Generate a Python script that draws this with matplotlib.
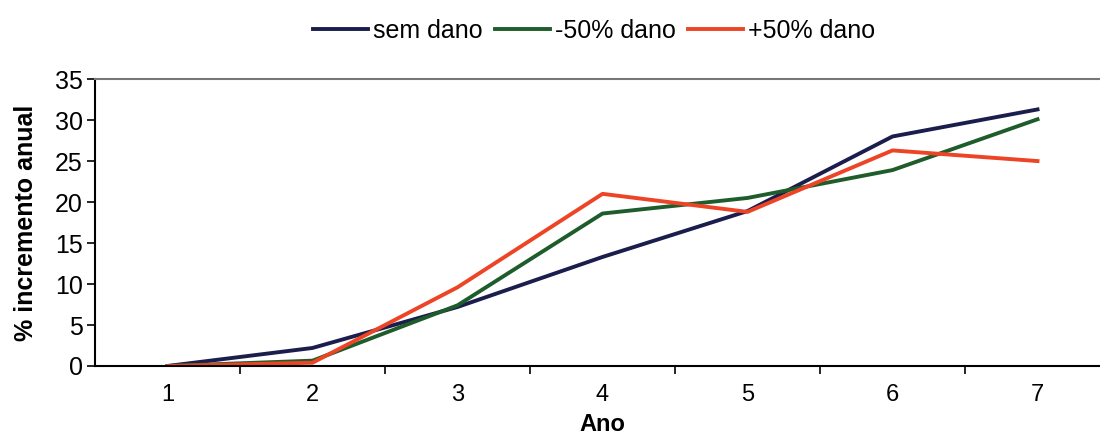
import numpy as np
import matplotlib.pyplot as plt
from matplotlib.ticker import FixedLocator

anos = [1, 2, 3, 4, 5, 6, 7]
sem_dano = [0, 2.2, 7.2, 13.3, 18.9, 28.0, 31.3]
menos_50 = [0, 0.65, 7.4, 18.6, 20.5, 23.9, 30.1]
mais_50 = [0, 0.4, 9.6, 21.0, 18.8, 26.3, 25.0]

plt.rcParams['font.family'] = ['Liberation Sans', 'DejaVu Sans']

fig = plt.figure(figsize=(11, 4.37), dpi=100)
ax = fig.add_axes([0.0864, 0.1625, 0.9227, 0.6565])

ax.plot(anos, sem_dano, color="#1b1d4d", lw=2.8, label="sem dano")
ax.plot(anos, menos_50, color="#1f5c2c", lw=2.8, label="-50% dano")
ax.plot(anos, mais_50, color="#ee4426", lw=2.8, label="+50% dano")

ax.set_xlim(0.5, 7.5)
ax.set_ylim(0, 35)
ax.set_yticks(range(0, 36, 5))
ax.set_xticks(anos)
ax.xaxis.set_minor_locator(FixedLocator(np.arange(1.5, 7.5, 1)))
ax.tick_params(axis="x", which="major", length=0, pad=13, labelsize=17)
ax.tick_params(axis="x", which="minor", length=6, width=1.2, direction="out")
ax.tick_params(axis="y", length=6, width=1.2, labelsize=18, pad=3)

for s in ["left", "bottom"]:
    ax.spines[s].set_linewidth(1.5)
    ax.spines[s].set_color("black")
ax.spines["top"].set_color("#777777")
ax.spines["top"].set_linewidth(1.5)
ax.spines["right"].set_visible(False)

ax.set_xlabel("Ano", fontsize=17, fontweight="bold", labelpad=5)
ax.set_ylabel("% incremento anual", fontsize=18, fontweight="bold", labelpad=12)

fig.legend(loc="center", bbox_to_anchor=(0.54, 0.93), ncol=3, frameon=False,
           fontsize=18, handlelength=2.2, handletextpad=0.2, columnspacing=0.5)

fig.savefig("out.png", dpi=100)
